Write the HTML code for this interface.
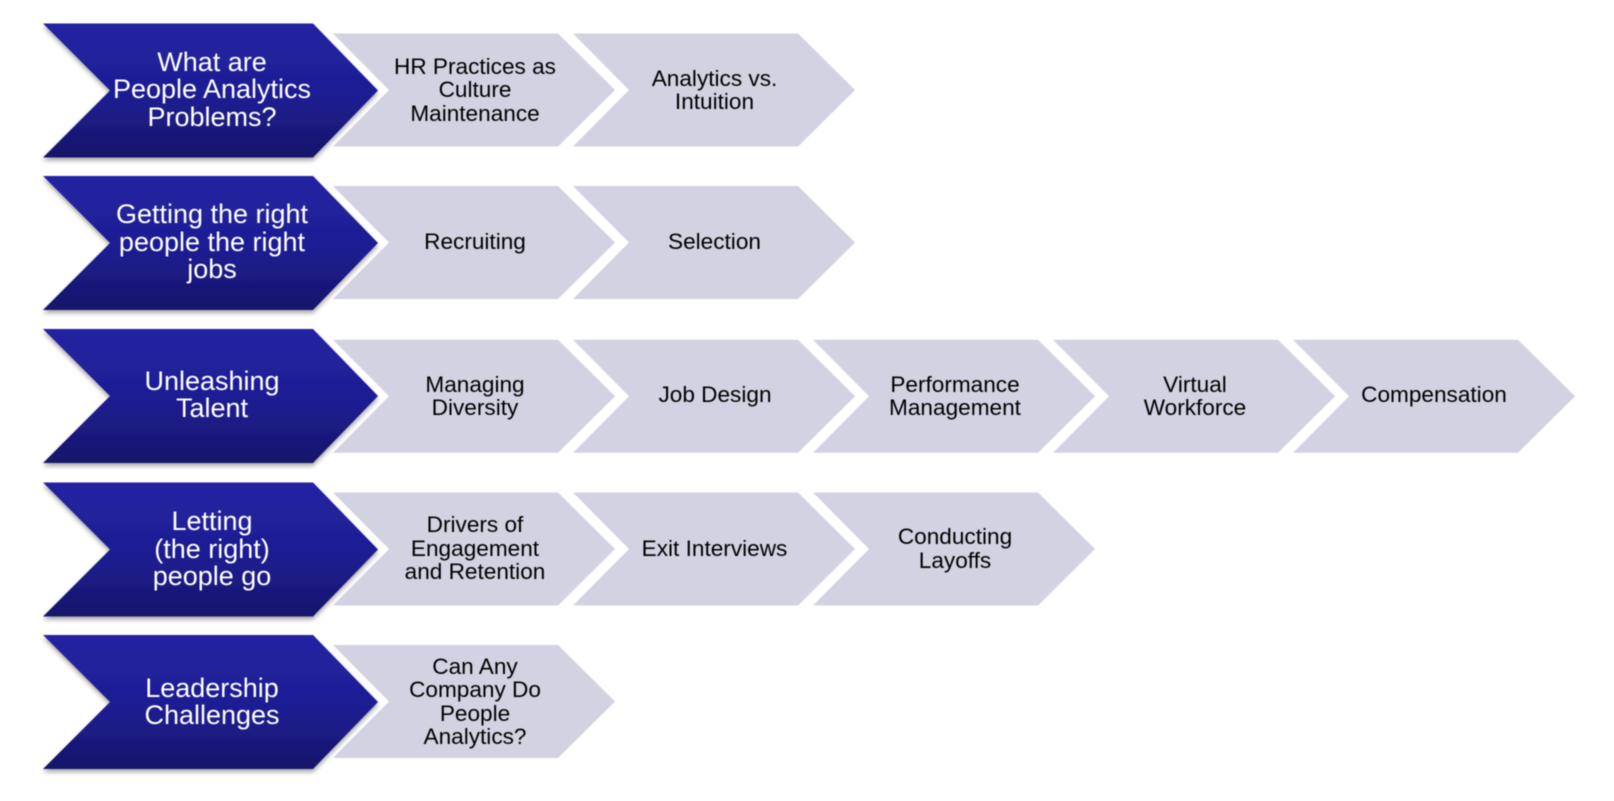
<!DOCTYPE html>
<html><head><meta charset="utf-8"><style>
html,body{margin:0;padding:0;background:#fff}
#p{position:relative;width:1614px;height:801px;overflow:hidden;font-family:"Liberation Sans",sans-serif;filter:blur(.45px)}
svg{position:absolute;left:0;top:0}
.t{position:absolute;display:flex;align-items:center;justify-content:center;text-align:center;white-space:nowrap;transform:translateX(-50%)}
.d{width:300px;height:134px;color:#fff;font-size:27px;line-height:27.5px}
.l{width:230px;height:113px;color:#000;font-size:22.6px;line-height:23.4px}
</style></head><body><div id="p">
<svg width="1614" height="801" viewBox="0 0 1614 801">
<defs>
<linearGradient id="g" x1="0" y1="0" x2="0" y2="1"><stop offset="0" stop-color="#2222a3"/><stop offset=".55" stop-color="#1e1e92"/><stop offset="1" stop-color="#15156a"/></linearGradient>
<filter id="s" x="-5%" y="-5%" width="110%" height="115%"><feDropShadow dx="0" dy="3" stdDeviation="2.5" flood-color="#000" flood-opacity=".35"/></filter>
<polygon id="L" points="0,0 225,0 282,56.5 225,113 0,113 56,56.5" fill="#d2d2e2"/>
<polygon id="D" points="43,0 313,0 378,67 313,134 43,134 110,67" fill="url(#g)" filter="url(#s)"/>
</defs>
<use href="#L" x="333" y="33.5"/><use href="#L" x="573" y="33.5"/>
<use href="#L" x="333" y="186"/><use href="#L" x="573" y="186"/>
<use href="#L" x="333" y="339.7"/><use href="#L" x="573" y="339.7"/><use href="#L" x="813" y="339.7"/><use href="#L" x="1053" y="339.7"/><use href="#L" x="1293" y="339.7"/>
<use href="#L" x="333" y="492.5"/><use href="#L" x="573" y="492.5"/><use href="#L" x="813" y="492.5"/>
<use href="#L" x="333" y="645"/>
<use href="#D" y="23.5"/><use href="#D" y="176"/><use href="#D" y="329"/><use href="#D" y="482.5"/><use href="#D" y="635"/>
</svg>
<div class="t d" style="left:212px;top:23px"><div>What are<br>People Analytics<br>Problems?</div></div>
<div class="t d" style="left:212px;top:175.5px"><div>Getting the right<br>people the right<br>jobs</div></div>
<div class="t d" style="left:212px;top:328px"><div>Unleashing<br>Talent</div></div>
<div class="t d" style="left:212px;top:482.5px"><div>Letting<br>(the right)<br>people go</div></div>
<div class="t d" style="left:212px;top:635px"><div>Leadership<br>Challenges</div></div>
<div class="t l" style="left:475px;top:33.5px"><div>HR Practices as<br>Culture<br>Maintenance</div></div>
<div class="t l" style="left:714.5px;top:33.5px"><div>Analytics vs.<br>Intuition</div></div>
<div class="t l" style="left:475px;top:185.5px"><div>Recruiting</div></div>
<div class="t l" style="left:714.5px;top:185.5px"><div>Selection</div></div>
<div class="t l" style="left:475px;top:339.5px"><div>Managing<br>Diversity</div></div>
<div class="t l" style="left:715px;top:338.5px"><div>Job Design</div></div>
<div class="t l" style="left:955px;top:339.5px"><div>Performance<br>Management</div></div>
<div class="t l" style="left:1195px;top:339.5px"><div>Virtual<br>Workforce</div></div>
<div class="t l" style="left:1434px;top:338.5px"><div>Compensation</div></div>
<div class="t l" style="left:475px;top:492px"><div>Drivers of<br>Engagement<br>and Retention</div></div>
<div class="t l" style="left:714.5px;top:492px"><div>Exit Interviews</div></div>
<div class="t l" style="left:955px;top:492px"><div>Conducting<br>Layoffs</div></div>
<div class="t l" style="left:475px;top:645px"><div>Can Any<br>Company Do<br>People<br>Analytics?</div></div>
</div></body></html>
